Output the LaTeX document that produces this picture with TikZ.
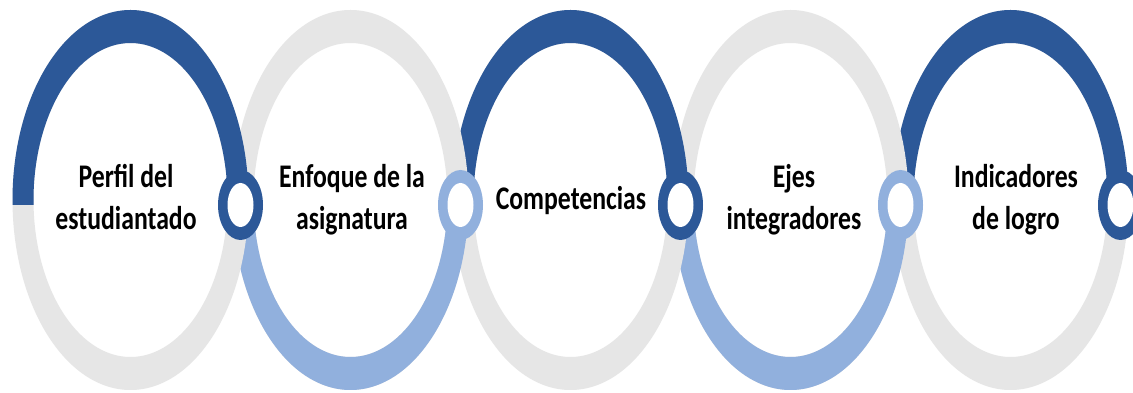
\documentclass[tikz,border=0pt]{standalone}
\usepackage{fontspec}
\setmainfont{Carlito}
\definecolor{dblue}{HTML}{2C5898}
\definecolor{lblue}{HTML}{91B0DD}
\definecolor{lgrey}{HTML}{E6E6E6}
\newcommand\sq[1]{\scalebox{0.78}[1]{#1}}
\tikzset{
  lbl/.style={font=\fontsize{33}{42}\bfseries\selectfont, align=center, inner sep=0pt, text=black, anchor=base},
}
\begin{document}
\begin{tikzpicture}[x=1pt,y=1pt]
\useasboundingbox (0,0) rectangle (1133,393);
\fill[white] (0,0) rectangle (1133,393);
% rings, rightmost first so the left ring lies on top
\foreach \cx/\col/\ya/\yb in {1010.5/dblue/188/400, 790.5/lblue/-10/188, 570.5/dblue/188/400, 350.5/lblue/-10/188, 130.5/dblue/188/400} {
  \fill[lgrey, even odd rule] (\cx,193) ellipse[x radius=118, y radius=190] (\cx,193) ellipse[x radius=97, y radius=157];
  \begin{scope}
    \clip (\cx-130,\ya) rectangle (\cx+130,\yb);
    \fill[\col, even odd rule] (\cx,193) ellipse[x radius=118, y radius=190] (\cx,193) ellipse[x radius=97, y radius=157];
  \end{scope}
}
% link rings
\foreach \cx/\col in {240.5/dblue, 460.5/lblue, 680.5/dblue, 900.5/lblue, 1120.5/dblue} {
  \fill[\col] (\cx,188) ellipse[x radius=22.5, y radius=35];
  \fill[white] (\cx,188) ellipse[x radius=13, y radius=22];
}
% labels
\node[lbl] (t1) at (126,163) {\sq{Perfil del}\\\sq{estudiantado}};
\node[lbl] (t2) at (352,163) {\sq{Enfoque de la}\\\sq{asignatura}};
\node[lbl] (t3) at (571,183) {\sq{Competencias}};
\node[lbl] (t4) at (794,163) {\sq{Ejes}\\\sq{integradores}};
\node[lbl] (t5) at (1016,163) {\sq{Indicadores}\\\sq{de logro}};
\end{tikzpicture}
\end{document}
